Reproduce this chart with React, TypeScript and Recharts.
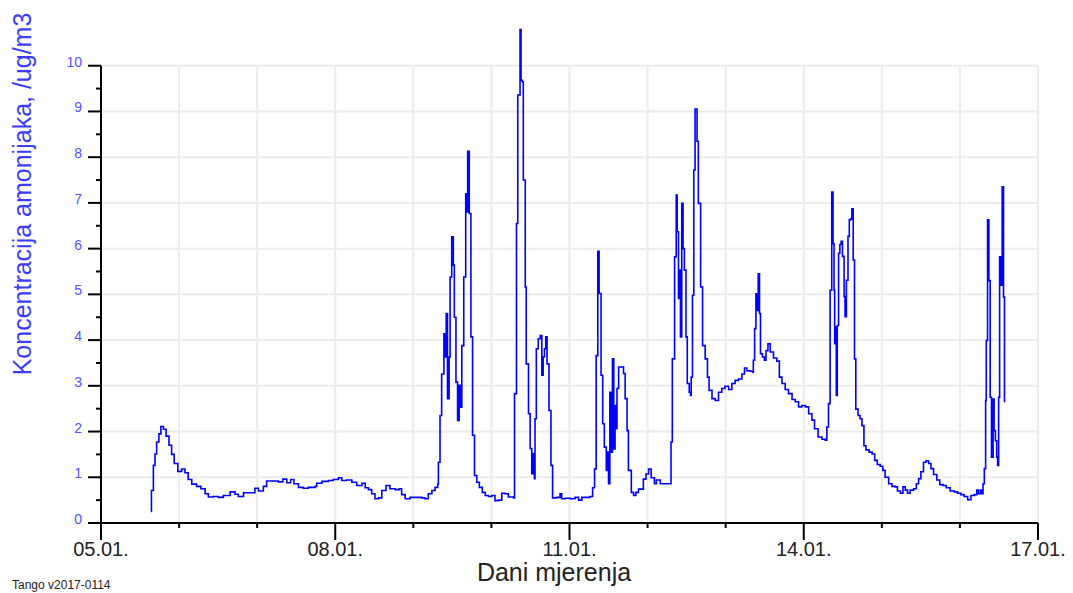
import React from 'react';
import { LineChart, Line, XAxis, YAxis, CartesianGrid, ReferenceLine } from 'recharts';

// hours since 05.01. 00:00
const hours = [
  15.4, 15.5, 16.1, 16.6, 17.1, 17.8, 18.4, 19.2, 20.0, 20.9, 21.7, 22.5, 23.6, 24.8, 25.8, 26.8, 27.9, 29.4, 30.7, 32.0,
  33.0, 34.5, 36.1, 37.6, 39.7, 41.2, 42.2, 43.8, 45.8, 47.3, 48.4, 49.9, 50.9, 53.0, 54.5, 55.9, 57.1, 58.3, 59.3, 60.7,
  62.2, 63.7, 65.8, 66.3, 67.9, 69.9, 71.4, 73.0, 74.0, 75.5, 77.1, 78.6, 80.2, 81.2, 82.2, 83.2, 84.2, 85.3, 86.3, 87.6,
  88.8, 90.4, 91.7, 92.4, 93.5, 95.0, 97.1, 98.6, 99.6, 100.6, 101.7, 102.7, 103.5, 103.7, 104.2, 104.7, 105.4, 105.8, 106.1, 106.5,
  107.0, 107.3, 107.8, 108.3, 108.6, 109.1, 109.6, 110.1, 110.5, 110.9, 111.5, 112.1, 112.5, 112.7, 113.2, 113.7, 114.2, 114.8, 115.5, 116.3,
  117.2, 118.1, 119.1, 120.1, 121.1, 122.2, 123.2, 124.2, 125.2, 126.8, 127.1, 127.7, 128.1, 128.8, 129.1, 129.5, 129.8, 130.4, 130.7, 131.4,
  131.9, 132.4, 132.9, 133.2, 133.4, 133.8, 134.4, 135.0, 135.5, 135.9, 136.3, 136.7, 137.1, 137.7, 138.3, 138.8, 140.1, 141.1, 141.6, 142.7,
  144.2, 145.7, 146.8, 147.8, 150.3, 151.1, 151.7, 152.2, 152.7, 153.1, 153.5, 153.7, 154.2, 154.7, 155.3, 155.6, 156.0, 156.4, 156.8, 157.2,
  157.6, 158.0, 158.3, 158.6, 159.1, 160.1, 160.6, 161.1, 161.7, 162.1, 163.0, 163.7, 164.4, 165.2, 166.0, 166.7, 167.5, 168.3, 169.1, 170.1,
  170.7, 171.9, 173.4, 174.9, 175.2, 175.6, 176.3, 176.8, 177.1, 177.5, 177.8, 178.1, 178.5, 178.9, 179.3, 179.8, 180.2, 180.8, 181.2, 181.4,
  181.8, 182.2, 182.6, 183.2, 183.6, 184.3, 184.9, 185.7, 186.4, 186.9, 187.8, 188.8, 189.8, 190.8, 191.8, 192.9, 193.9, 194.9, 196.0, 197.0,
  197.8, 198.5, 199.5, 200.3, 200.5, 200.9, 201.3, 201.7, 202.0, 202.4, 202.7, 203.3, 203.9, 204.4, 205.0, 205.7, 206.7, 207.7, 208.5, 209.3,
  210.3, 211.3, 212.4, 213.4, 214.4, 215.4, 216.5, 217.5, 218.5, 219.3, 220.4, 221.6, 222.6, 223.1, 223.6, 224.1, 224.6, 225.0, 225.3, 225.5,
  225.7, 226.0, 226.3, 226.7, 227.1, 227.5, 227.9, 228.4, 228.7, 229.1, 229.6, 230.0, 230.4, 230.8, 231.2, 231.6, 232.0, 232.7, 233.3, 233.9,
  234.5, 235.1, 236.1, 237.0, 237.8, 238.6, 239.5, 240.3, 241.0, 242.1, 243.1, 244.1, 244.8, 245.7, 246.5, 247.2, 247.9, 248.7, 249.8, 250.6,
  251.3, 252.0, 252.8, 253.6, 254.4, 255.1, 255.9, 256.9, 257.8, 258.8, 259.8, 261.0, 262.3, 263.3, 264.3, 265.3, 266.4, 267.4, 268.4, 269.2,
  269.7, 270.3, 270.8, 271.1, 271.5, 271.9, 272.1, 272.5, 272.9, 273.3, 273.7, 274.2, 274.5, 274.9, 275.3, 275.6, 275.9, 276.2, 276.6, 277.0,
  277.4, 277.7,
];

// ammonia concentration, ug/m3
const ammonia = [
  0.25, 0.71, 1.26, 1.51, 1.77, 1.95, 2.11, 2.05, 1.9, 1.7, 1.5, 1.3, 1.13, 1.18, 1.1, 0.95, 0.85, 0.8, 0.75, 0.64,
  0.57, 0.58, 0.56, 0.6, 0.68, 0.63, 0.58, 0.66, 0.66, 0.76, 0.7, 0.8, 0.92, 0.92, 0.9, 0.96, 0.88, 0.95, 0.86, 0.78,
  0.76, 0.78, 0.8, 0.87, 0.91, 0.93, 0.95, 0.99, 0.93, 0.94, 0.89, 0.82, 0.87, 0.77, 0.73, 0.64, 0.53, 0.55, 0.71, 0.82,
  0.75, 0.73, 0.75, 0.62, 0.53, 0.56, 0.56, 0.55, 0.53, 0.64, 0.71, 0.78, 0.85, 1.33, 2.35, 3.26, 4.14, 3.63, 4.58, 2.72,
  3.63, 5.38, 6.26, 5.64, 4.5, 3.08, 2.24, 3.01, 2.53, 3.88, 5.38, 7.2, 6.8, 8.13, 6.77, 4.07, 1.92, 1.04, 0.89, 0.78,
  0.67, 0.6, 0.58, 0.6, 0.49, 0.5, 0.65, 0.64, 0.57, 0.55, 2.83, 6.55, 9.36, 10.79, 9.68, 9.65, 7.5, 5.16, 3.48, 2.39,
  1.63, 1.08, 1.52, 0.97, 2.28, 3.81, 4.03, 4.1, 3.23, 3.63, 3.81, 4.07, 3.48, 2.46, 1.26, 0.55, 0.56, 0.64, 0.53, 0.54,
  0.53, 0.56, 0.5, 0.56, 0.58, 0.77, 1.18, 3.66, 5.94, 5.02, 5.02, 3.23, 2.17, 1.66, 1.15, 1.55, 0.86, 2.86, 1.55, 3.59,
  1.62, 2.57, 2.06, 2.94, 3.41, 3.41, 3.27, 2.72, 2.02, 1.15, 0.67, 0.6, 0.67, 0.74, 0.74, 0.96, 1.07, 1.18, 0.99, 0.86,
  0.94, 0.86, 0.86, 0.86, 1.77, 3.59, 5.82, 7.17, 6.37, 4.91, 5.53, 4.07, 6.99, 6.0, 5.53, 4.07, 3.05, 2.86, 2.79, 3.19,
  4.98, 7.72, 9.05, 8.35, 6.99, 5.16, 3.88, 3.59, 3.19, 2.9, 2.72, 2.68, 2.86, 2.94, 2.99, 2.92, 3.05, 3.12, 3.15, 3.26,
  3.39, 3.33, 3.32, 3.3, 3.56, 4.25, 5.01, 4.65, 5.45, 4.58, 3.7, 3.63, 3.56, 3.77, 3.92, 3.74, 3.61, 3.54, 3.19, 3.05,
  2.92, 2.83, 2.7, 2.65, 2.54, 2.57, 2.54, 2.39, 2.25, 2.06, 1.88, 1.83, 1.81, 2.1, 2.61, 5.09, 7.24, 6.11, 5.09, 3.92,
  4.29, 2.79, 4.32, 5.9, 6.09, 6.16, 5.83, 4.95, 4.51, 5.31, 6.27, 6.63, 6.65, 6.87, 5.75, 3.59, 2.49, 2.35, 2.28, 2.13,
  1.69, 1.6, 1.55, 1.51, 1.37, 1.28, 1.24, 1.15, 1.0, 0.86, 0.8, 0.79, 0.7, 0.65, 0.79, 0.72, 0.65, 0.72, 0.75, 0.86,
  0.97, 1.12, 1.33, 1.36, 1.3, 1.19, 1.06, 0.94, 0.84, 0.82, 0.77, 0.7, 0.68, 0.65, 0.62, 0.58, 0.51, 0.6, 0.62, 0.72,
  0.64, 0.72, 0.64, 0.86, 1.19, 2.68, 3.99, 6.63, 5.3, 2.75, 1.44, 2.71, 2.02, 1.8, 1.44, 1.26, 2.75, 5.82, 5.2, 7.35,
  4.94, 2.64,
];

const dayTicks = [0, 24, 48, 72, 96, 120, 144, 168, 192, 216, 240, 264, 288];
const dayLabels = ['05.01.', '06.01.', '07.01.', '08.01.', '09.01.', '10.01.', '11.01.', '12.01.', '13.01.', '14.01.', '15.01.', '16.01.', '17.01.'];
const yTicks = [0, 0.5, 1, 1.5, 2, 2.5, 3, 3.5, 4, 4.5, 5, 5.5, 6, 6.5, 7, 7.5, 8, 8.5, 9, 9.5, 10];
const yGridValues = [1, 2, 3, 4, 5, 6, 7, 8, 9, 10];

const data = hours.map((h, i) => ({ h, v: ammonia[i] }));

const FONT = '"Liberation Sans", Arial, sans-serif';
const GRID = '#ececec';

const XTick = (props: any) => {
  const { x, y, payload } = props;
  const day = Math.round(payload.value / 24);
  const major = day % 3 === 0;
  return (
    <g>
      <line x1={x} y1={y} x2={x} y2={y + (major ? 17 : 5)} stroke="#000" strokeWidth={2} />
      {major && (
        <text x={x} y={y + 33} textAnchor="middle" fontSize={20} fill="#222" fontFamily={FONT}>
          {dayLabels[day]}
        </text>
      )}
    </g>
  );
};

const YTick = (props: any) => {
  const { x, y, payload } = props;
  const major = Number.isInteger(payload.value);
  return (
    <g>
      <line x1={x - (major ? 13 : 5)} y1={y} x2={x} y2={y} stroke="#000" strokeWidth={2} />
      {major && (
        <text x={x - 19} y={y + 1} textAnchor="end" fontSize={14} fill="#5252ff" fontFamily={FONT}>
          {payload.value}
        </text>
      )}
    </g>
  );
};

export default function App() {
  return (
    <div style={{ position: 'absolute', left: 0, top: 0, width: 1073, height: 593, background: '#fff', overflow: 'hidden' }}>
      <LineChart width={1073} height={593} data={data} margin={{ top: 20, right: 35, bottom: 40, left: 41 }}>
        <CartesianGrid vertical={false} horizontalValues={yGridValues} stroke={GRID} strokeWidth={2} />
        {dayTicks.slice(1).map((d) => (
          <ReferenceLine
            key={d}
            segment={[{ x: d, y: 0 }, { x: d, y: 10 }]}
            stroke={GRID}
            strokeWidth={2}
            zIndex={-100}
          />
        ))}
        <XAxis
          type="number"
          dataKey="h"
          domain={[0, 288]}
          ticks={dayTicks}
          interval={0}
          height={30}
          tickSize={0}
          tickMargin={0}
          tickLine={false}
          axisLine={{ stroke: '#000', strokeWidth: 2 }}
          tick={<XTick />}
        />
        <YAxis
          type="number"
          domain={[0, 11]}
          ticks={yTicks}
          interval={0}
          width={60}
          tickSize={0}
          tickMargin={0}
          tickLine={false}
          axisLine={false}
          tick={<YTick />}
        />
        <ReferenceLine segment={[{ x: 0, y: 0 }, { x: 0, y: 10 }]} stroke="#000" strokeWidth={2} />
        <Line
          type="stepAfter"
          dataKey="v"
          stroke="#0000ff"
          strokeWidth={1.6}
          dot={false}
          activeDot={false}
          isAnimationActive={false}
        />
      </LineChart>
      <svg width={1073} height={593} style={{ position: 'absolute', left: 0, top: 0, pointerEvents: 'none' }}>
        <text x={31} y={194} transform="rotate(-90, 31, 194)" textAnchor="middle" fontSize={25} fill="#3c3cff" fontFamily={FONT}>
          Koncentracija amonijaka, /ug/m3
        </text>
        <text x={554} y={581} textAnchor="middle" fontSize={25} fill="#222" fontFamily={FONT}>
          Dani mjerenja
        </text>
        <text x={12} y={589} fontSize={12} fill="#222" fontFamily={FONT}>
          Tango v2017-0114
        </text>
      </svg>
    </div>
  );
}
